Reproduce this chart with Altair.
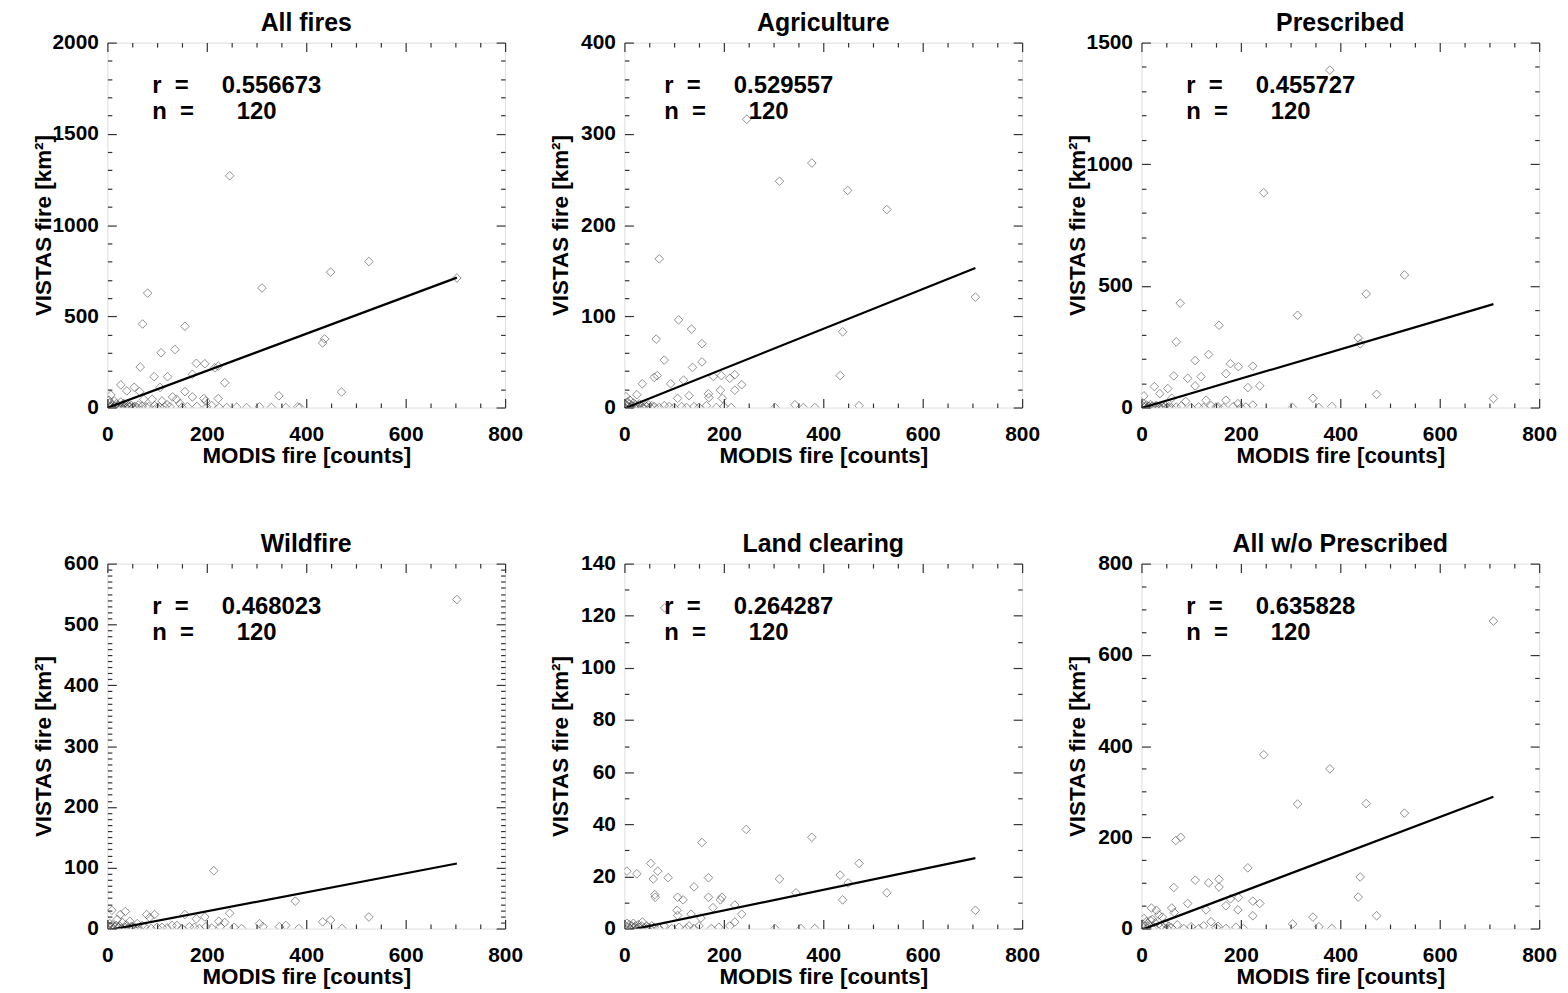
import altair as alt
import pandas as pd

FONT = "Liberation Sans"

titles = ["All fires", "Agriculture", "Prescribed", "Wildfire", "Land clearing", "All w/o Prescribed"]
r_values = ["0.556673", "0.529557", "0.455727", "0.468023", "0.264287", "0.635828"]
n_values = ["120", "120", "120", "120", "120", "120"]
y_max = [2000, 400, 1500, 600, 140, 800]
y_major = [500, 100, 500, 100, 20, 200]
y_minor = [100, 20, 100, 10, 10, 50]
text_left = [45, 40, 45, 45, 40, 45]

# ---- All fires ----
all_x = [246, 703, 526, 449, 311, 81, 71, 156, 433, 437, 108, 136, 66, 179, 196, 94, 121, 171, 216, 223,
         236, 27, 54, 39, 106, 156, 471, 345, 7, 131, 139, 171, 194, 198, 223, 306, 359, 383, 387, 161,
         225, 65, 73, 90, 110, 146, 126, 105, 83, 27, 33, 40,
         2, 5, 8, 10, 12, 15, 18, 20, 22, 25, 28, 30, 35, 38, 42, 45, 48, 52, 55, 60, 3, 14, 62, 70,
         78, 95, 100, 115, 120, 150, 180, 200, 210, 240, 260, 280, 330]
all_y = [1270, 710, 800, 742, 655, 627, 458, 445, 354, 376, 300, 318, 222, 242, 240, 169, 169, 182, 218, 227,
         136, 124, 111, 91, 110, 87, 85, 64, 69, 58, 45, 58, 49, 36, 49, 4, 0, 4, 0, 5,
         0, 87, 45, 45, 36, 22, 4, 3, 5, 30, 22, 18,
         10, 25, 5, 15, 2, 8, 20, 0, 12, 5, 2, 10, 5, 0, 8, 3, 12, 2, 6, 0, 40, 35, 14, 8,
         3, 10, 0, 5, 15, 2, 6, 3, 10, 0, 2, 0, 0]
all_line_x = [0, 703]
all_line_y = [-2, 712]

# ---- Agriculture ----
agr_x = [377, 312, 449, 528, 70, 706, 109, 135, 64, 439, 156, 80, 156, 137, 60, 66, 36, 93, 119, 179,
         195, 212, 222, 236, 434, 25, 3, 11, 107, 130, 169, 170, 193, 197, 222, 343, 472, 360, 383, 303, 246,
         2, 5, 8, 10, 12, 15, 18, 20, 22, 25, 28, 30, 35, 38, 42, 45, 48, 52, 55, 60, 70, 80, 90, 100,
         115, 125, 140, 150, 165, 185, 200, 215]
agr_y = [268, 248, 238, 217, 163, 121, 96, 86, 75, 83, 70, 52, 50, 44, 33, 35, 26, 26, 30, 34,
         35, 32, 36, 25, 35, 14, 12, 8, 10, 13, 15, 11, 19, 10, 19, 3, 2, 0, 0, 0, 316,
         3, 6, 1, 4, 0, 2, 5, 1, 3, 0, 2, 4, 1, 0, 2, 1, 3, 0, 2, 1, 0, 2, 1, 0,
         1, 0, 1, 0, 2, 0, 1, 0]
agr_line_x = [0, 706]
agr_line_y = [-1, 153]

# ---- Prescribed ----
pre_x = [379, 246, 529, 452, 314, 78, 156, 70, 436, 440, 135, 108, 179, 195, 224, 170, 65, 93, 120, 108,
         214, 238, 26, 53, 37, 5, 61, 130, 170, 89, 473, 345, 708, 194, 224, 383, 304, 357, 140, 154,
         2, 5, 8, 10, 12, 15, 18, 20, 22, 25, 28, 30, 35, 38, 42, 45, 48, 52, 55, 60, 70, 80, 100,
         115, 125, 150, 165, 185, 200, 210]
pre_y = [1387, 883, 545, 467, 379, 429, 338, 270, 286, 262, 218, 193, 180, 168, 170, 139, 130, 120, 127, 89,
         82, 89, 86, 78, 57, 48, 38, 30, 30, 25, 54, 38, 37, 16, 10, 4, 0, 0, 8, 3,
         8, 15, 3, 10, 0, 5, 12, 2, 6, 0, 4, 9, 2, 0, 5, 1, 7, 0, 3, 0, 2, 6, 0,
         3, 0, 2, 0, 4, 0, 2]
pre_line_x = [0, 708]
pre_line_y = [-2, 425]

# ---- Wildfire ----
wld_x = [703, 214, 378, 526, 246, 156, 196, 179, 79, 95, 85, 36, 9, 26, 30, 20, 224, 236, 227, 306,
         313, 346, 359, 433, 449, 472, 385, 198, 130, 140, 165, 110, 60, 70, 45, 50,
         2, 5, 8, 10, 12, 15, 18, 22, 25, 28, 35, 38, 42, 48, 52, 55, 62, 75, 88, 100, 120, 150,
         175, 185, 210, 255, 270]
wld_y = [541, 95, 45, 19, 25, 23, 19, 16, 23, 23, 18, 28, 30, 23, 10, 15, 12, 10, 3, 8,
         3, 3, 5, 11, 14, 0, 0, 3, 5, 5, 3, 2, 8, 5, 12, 3,
         4, 8, 2, 6, 0, 3, 5, 1, 4, 0, 2, 6, 1, 3, 0, 2, 1, 3, 0, 2, 1, 0,
         2, 0, 1, 2, 0]
wld_line_x = [0, 703]
wld_line_y = [-3, 107]

# ---- Land clearing ----
lnd_x = [81, 245, 377, 156, 472, 53, 5, 25, 67, 58, 88, 169, 312, 434, 450, 140, 61, 62, 345, 528,
         107, 118, 169, 439, 193, 196, 178, 222, 106, 107, 134, 154, 236, 706, 36, 212, 222, 130, 140,
         303, 355, 383,
         2, 5, 8, 10, 12, 15, 18, 20, 22, 25, 28, 30, 35, 40, 45, 48, 52, 55, 60, 70, 80, 95, 110,
         125, 150, 175, 190]
lnd_y = [123, 38, 35, 33, 25, 25, 22, 21, 22, 19, 19.5, 19.5, 19, 20.5, 17.5, 16, 13, 12, 13.7, 13.7,
         12, 11, 12, 11, 11, 12, 8, 9, 7, 5, 5.5, 4, 5.5, 7, 2.5, 1, 2.5, 1, 0,
         0, 0, 0,
         1, 2, 0.5, 1.5, 0, 1, 2, 0.5, 1, 0, 1.5, 0.5, 1, 0, 1, 0.5, 0, 1, 0.5, 0, 1, 0, 0.5,
         0, 1, 0, 0.5]
lnd_line_x = [0, 706]
lnd_line_y = [-1, 27]

# ---- All w/o Prescribed ----
awp_x = [708, 246, 379, 314, 452, 529, 69, 79, 214, 440, 108, 135, 156, 156, 65, 436, 179, 195, 224, 238,
         93, 170, 61, 66, 130, 194, 224, 140, 473, 345, 304, 357, 383, 20, 30, 35, 22, 154,
         2, 5, 8, 10, 12, 15, 18, 25, 28, 40, 42, 45, 48, 52, 55, 60, 72, 85, 100, 115, 125, 150,
         170, 190, 205]
awp_y = [674, 381, 350, 273, 274, 253, 193, 200, 133, 113, 106, 100, 108, 91, 90, 69, 65, 68, 60, 55,
         55, 50, 45, 35, 41, 41, 28, 15, 28, 25, 10, 4, 0, 45, 40, 30, 20, 5,
         10, 22, 5, 15, 0, 8, 18, 3, 12, 6, 25, 2, 10, 0, 5, 2, 8, 0, 4, 0, 6, 2,
         0, 3, 0]
awp_line_x = [0, 708]
awp_line_y = [-3, 289]

points = [(all_x, all_y), (agr_x, agr_y), (pre_x, pre_y), (wld_x, wld_y), (lnd_x, lnd_y), (awp_x, awp_y)]
lines = [(all_line_x, all_line_y), (agr_line_x, agr_line_y), (pre_line_x, pre_line_y),
         (wld_line_x, wld_line_y), (lnd_line_x, lnd_line_y), (awp_line_x, awp_line_y)]

W, H = 400, 367
TICK = "#333333"


def frange(stop, step):
    out, v = [], 0
    while v <= stop + 1e-9:
        out.append(v)
        v += step
    return out


def tick_axis(orient, values, size):
    return alt.Axis(orient=orient, values=values, tickSize={"expr": str(-size)}, labels=False,
                    title=None, domain=False, grid=False, ticks=True, tickColor=TICK,
                    tickWidth=1.2, minExtent=0, maxExtent=0)


def panel(i):
    xs, ys = points[i]
    lx, ly = lines[i]
    pdf = pd.DataFrame({"x": xs, "y": ys})
    ldf = pd.DataFrame({"x": lx, "y": ly})
    xsc = alt.Scale(domain=[0, 800], nice=False, zero=False)
    ysc = alt.Scale(domain=[0, y_max[i]], nice=False, zero=False)
    xmaj = frange(800, 200)
    xmin = [v for v in frange(800, 50) if v not in xmaj]
    ymaj = frange(y_max[i], y_major[i])
    ymin = [v for v in frange(y_max[i], y_minor[i]) if v not in ymaj]

    label_x = alt.Axis(orient="bottom", values=xmaj, ticks=False, domain=False, grid=False, format="d",
                       labelFont=FONT, labelFontSize=21, labelFontWeight="bold", labelColor="black",
                       labelPadding=27, labelBaseline="middle", labelFlush=False, labelOverlap=False,
                       title="MODIS fire [counts]", titleFont=FONT, titleFontSize=22.5,
                       titleFontWeight="bold", titleColor="black", titleX=W / 2, titleY=48,
                       titleAlign="center", titleBaseline="middle")
    label_y = alt.Axis(orient="left", values=ymaj, ticks=False, domain=False, grid=False, format="d",
                       labelFont=FONT, labelFontSize=21, labelFontWeight="bold", labelColor="black",
                       labelPadding=9, labelFlush=False, labelOverlap=False,
                       title="VISTAS fire [km²]", titleFont=FONT, titleFontSize=22.5,
                       titleFontWeight="bold", titleColor="black", titleX=-64, titleY=H / 2,
                       titleAngle=270, titleAlign="center", titleBaseline="middle")

    pts = alt.Chart(pdf).mark_point(shape="diamond", filled=False, size=75, color="#3a3a3a",
                                    strokeWidth=0.8, clip=True).encode(
        x=alt.X("x:Q", scale=xsc, axis=label_x),
        y=alt.Y("y:Q", scale=ysc, axis=label_y))

    def line_layer(xax, yax, opacity):
        return alt.Chart(ldf).mark_line(color="black", strokeWidth=2.2, clip=True, opacity=opacity).encode(
            x=alt.X("x:Q", scale=xsc, axis=xax),
            y=alt.Y("y:Q", scale=ysc, axis=yax))

    l1 = line_layer(tick_axis("bottom", xmaj, 9), tick_axis("left", ymaj, 9), 1)
    l2 = line_layer(tick_axis("bottom", xmin, 4.5), tick_axis("left", ymin, 4.5), 0)
    l3 = line_layer(tick_axis("top", xmaj, 9), tick_axis("right", ymaj, 9), 0)
    l4 = line_layer(tick_axis("top", xmin, 4.5), tick_axis("right", ymin, 4.5), 0)

    txt_style = dict(align="left", baseline="middle", font=FONT, fontSize=24, fontWeight="bold", color="black")
    t_r = alt.Chart(pd.DataFrame({"t": ["r\u00a0\u00a0="]})).mark_text(**txt_style).encode(
        text="t:N", x=alt.value(text_left[i]), y=alt.value(44))
    t_n = alt.Chart(pd.DataFrame({"t": ["n\u00a0\u00a0="]})).mark_text(**txt_style).encode(
        text="t:N", x=alt.value(text_left[i]), y=alt.value(70))
    t_rv = alt.Chart(pd.DataFrame({"t": [r_values[i]]})).mark_text(**txt_style).encode(
        text="t:N", x=alt.value(text_left[i] + 70), y=alt.value(44))
    t_nv = alt.Chart(pd.DataFrame({"t": [n_values[i]]})).mark_text(**txt_style).encode(
        text="t:N", x=alt.value(text_left[i] + 85), y=alt.value(70))
    t_title = alt.Chart(pd.DataFrame({"t": [titles[i]]})).mark_text(
        align="center", baseline="alphabetic", font=FONT, fontSize=25, fontWeight="bold",
        color="black").encode(text="t:N", x=alt.value(W / 2), y=alt.value(-12))

    return alt.layer(pts, l1, l2, l3, l4, t_r, t_n, t_rv, t_nv, t_title).resolve_axis(
        x="independent", y="independent").properties(width=W, height=H)


chart = alt.concat(*[panel(i) for i in range(6)], columns=3,
                   spacing={"row": 157, "column": 120}, bounds="flush").properties(
    padding={"left": 32, "top": 7, "right": 10, "bottom": 5}
).configure_view(stroke="#444444", strokeWidth=1.3).configure(background="white")

chart.save("out.html", embed_options={"renderer": "svg", "actions": False})
